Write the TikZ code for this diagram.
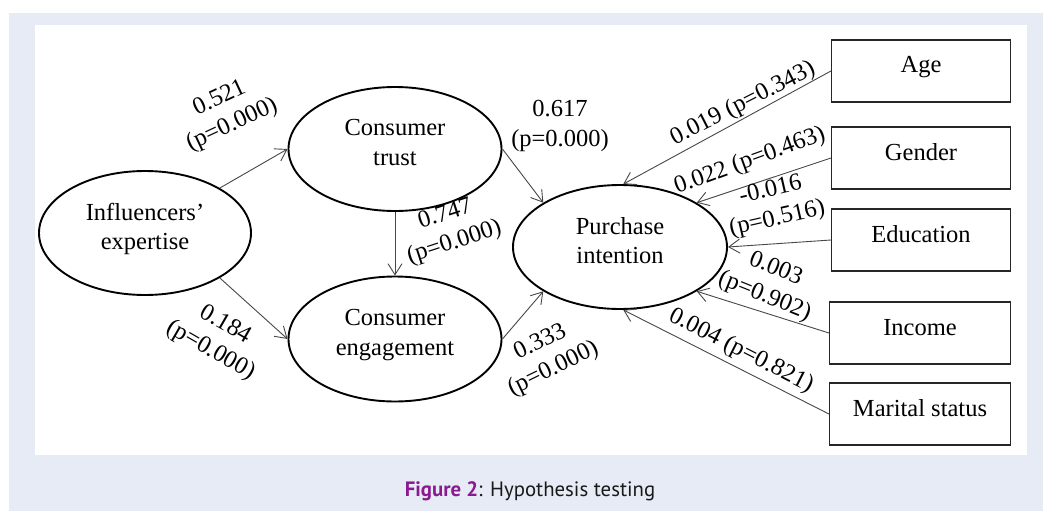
\documentclass[tikz,border=0pt]{standalone}
\usepackage{fontspec}
\setmainfont{Liberation Serif}
\newfontfamily\capfont{PT Sans}
\usetikzlibrary{arrows.meta,shapes.geometric}
\definecolor{pagebg}{HTML}{E6EBF5}
\definecolor{figpurple}{HTML}{8B1A92}
\definecolor{edgegray}{HTML}{474747}

\begin{document}
\begin{tikzpicture}[x=1pt,y=-1pt,
  construct/.style={draw,ellipse,line width=1.9pt,minimum width=212pt,minimum height=124pt,
    inner sep=0pt,align=center,text depth=13pt,font=\fontsize{24.5}{29.5}\selectfont},
  control/.style={draw=black!85,line width=1.1pt,minimum width=179pt,minimum height=62pt,
    inner sep=0pt,text height=12pt,text depth=8pt,font=\fontsize{24.5}{29.5}\selectfont},
  effect/.style={draw=edgegray,line width=0.9pt,-{Straight Barb[length=11pt,width=14pt]}},
  coef/.style={align=center,inner sep=0pt,font=\fontsize{24.5}{29.5}\selectfont}]
  \useasboundingbox (0,0) rectangle (1043,511);
  \fill[white] (0,0) rectangle (1043,511);
  \fill[pagebg] (9,13) rectangle (1043,511);
  \fill[white] (35,25) rectangle (1027,455);

  % constructs
  \node[construct] (IE) at (145,233) {Influencers'\\expertise};
  \node[construct,minimum width=213pt] (CT) at (395,149) {Consumer\\trust};
  \node[construct,minimum width=213pt,minimum height=125pt] (CE) at (395,339) {Consumer\\engagement};
  \node[construct,minimum width=214pt] (PI) at (620,247) {Purchase\\intention};

  % control variables
  \node[control] (age) at (921,71) {Age};
  \node[control] (gender) at (921,158) {Gender};
  \node[control] (edu) at (921,240) {Education};
  \node[control,minimum width=181pt] (income) at (920,333) {Income};
  \node[control,minimum width=181pt] (marital) at (920,414) {Marital status};

  % paths
  \draw[effect] (IE.31) -- (CT.west);
  \draw[effect] (IE.-31) -- (CE.west);
  \draw[effect] (CT.south) -- (CE.north);
  \draw[effect] (CT.east) -- (PI.150);
  \draw[effect] (CE.east) -- (PI.210);
  \draw[effect] (age.west) -- (PI.87);
  \draw[effect] (gender.west) -- (PI.30);
  \draw[effect] (edu.west) -- (PI.east);
  \draw[effect] (income.west) -- (PI.-30);
  \draw[effect] (marital.west) -- (PI.-87);

  % coefficients
  \node[coef,rotate=25] (c521) at (226,112) {0.521\\(p=0.000)};
  \node[coef,rotate=-30] (c184) at (218,338) {0.184\\(p=0.000)};
  \node[coef,rotate=18] (c747) at (450,229) {0.747\\(p=0.000)};
  \node[coef] (c617) at (560,126) {0.617\\(p=0.000)};
  \node[coef,rotate=26] (c333) at (547,356) {0.333\\(p=0.000)};
  \node[coef,rotate=27] (c019) at (743,104) {0.019 (p=0.343)};
  \node[coef,rotate=20] (c022) at (750,161) {0.022 (p=0.463)};
  \node[coef,rotate=13] (c016) at (774,205) {-0.016\\(p=0.516)};
  \node[coef,rotate=-22] (c003) at (770,283) {0.003\\(p=0.902)};
  \node[coef,rotate=-27] (c004) at (741,351) {0.004 (p=0.821)};

  % caption
  \node[font=\capfont\fontsize{20.8}{25}\selectfont,text=black!90] (caption) at (530,491)
    {\textcolor{figpurple}{\textbf{Figure 2}}: Hypothesis testing};
\end{tikzpicture}
\end{document}
